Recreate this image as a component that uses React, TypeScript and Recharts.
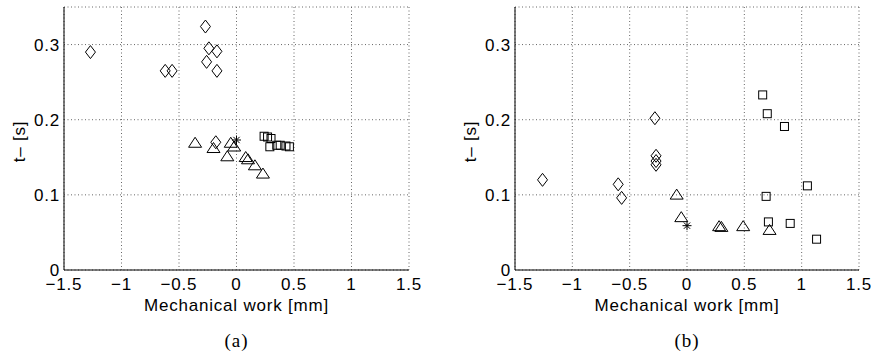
import { ScatterChart, Scatter, XAxis, YAxis, CartesianGrid } from 'recharts';

const xTicks = [-1.5, -1, -0.5, 0, 0.5, 1, 1.5];
const yTicks = [0, 0.1, 0.2, 0.3];

// panel (a)
const aDiamondX = [-1.27, -0.27, -0.62, -0.56, -0.24, -0.17, -0.26, -0.17, -0.18];
const aDiamondY = [0.29, 0.324, 0.265, 0.265, 0.295, 0.291, 0.277, 0.265, 0.17];
const aTriangleX = [-0.36, -0.2, -0.08, -0.05, -0.02, 0.08, 0.1, 0.16, 0.23];
const aTriangleY = [0.17, 0.163, 0.152, 0.17, 0.165, 0.151, 0.148, 0.14, 0.129];
const aSquareX = [0.24, 0.27, 0.3, 0.29, 0.35, 0.38, 0.43, 0.46];
const aSquareY = [0.178, 0.177, 0.175, 0.164, 0.166, 0.166, 0.165, 0.164];
const aStarX = [0];
const aStarY = [0.173];

// panel (b)
const bDiamondX = [-1.26, -0.6, -0.57, -0.28, -0.27, -0.27, -0.27];
const bDiamondY = [0.12, 0.114, 0.096, 0.202, 0.152, 0.145, 0.14];
const bTriangleX = [-0.09, -0.05, 0.28, 0.3, 0.49, 0.72];
const bTriangleY = [0.101, 0.071, 0.059, 0.058, 0.059, 0.054];
const bSquareX = [0.66, 0.7, 0.85, 1.05, 0.69, 0.71, 0.9, 1.13];
const bSquareY = [0.233, 0.208, 0.191, 0.112, 0.098, 0.064, 0.062, 0.041];
const bStarX = [0];
const bStarY = [0.059];

const FONT = '"Liberation Sans", Arial, Helvetica, sans-serif';
const FS = 17;
const LS = 0.8;

function zip(xs: number[], ys: number[]) {
  return xs.map((x, i) => ({ x, y: ys[i] }));
}

function fmt(v: number) {
  return String(v).replace('-', '\u2212');
}

const Diamond = (p: any) => {
  const { cx, cy } = p;
  return (
    <path
      d={`M${cx},${cy - 6.5}L${cx + 5},${cy}L${cx},${cy + 6.5}L${cx - 5},${cy}Z`}
      fill="none"
      stroke="#000"
      strokeWidth={1}
    />
  );
};

const Triangle = (p: any) => {
  const { cx, cy } = p;
  return (
    <path
      d={`M${cx},${cy - 5}L${cx + 6.5},${cy + 5}L${cx - 6.5},${cy + 5}Z`}
      fill="none"
      stroke="#000"
      strokeWidth={1}
    />
  );
};

const Square = (p: any) => {
  const { cx, cy } = p;
  return <rect x={cx - 4} y={cy - 4} width={8} height={8} fill="none" stroke="#000" strokeWidth={1} />;
};

const Star = (p: any) => {
  const { cx, cy } = p;
  const r = 4.5;
  const d = r * 0.7;
  return (
    <path
      d={`M${cx},${cy - r}L${cx},${cy + r}M${cx - r},${cy}L${cx + r},${cy}M${cx - d},${cy - d}L${cx + d},${cy + d}M${cx - d},${cy + d}L${cx + d},${cy - d}`}
      stroke="#000"
      strokeWidth={1}
    />
  );
};

interface PanelProps {
  left: number;
  yAxisWidth: number;
  plotWidth: number;
  caption: string;
  diamonds: { x: number; y: number }[];
  triangles: { x: number; y: number }[];
  squares: { x: number; y: number }[];
  stars: { x: number; y: number }[];
}

function Panel({ left, yAxisWidth, plotWidth, caption, diamonds, triangles, squares, stars }: PanelProps) {
  const rightMargin = 12;
  const width = yAxisWidth + plotWidth + rightMargin;
  const captionX = yAxisWidth + plotWidth / 2;
  return (
    <div style={{ position: 'absolute', left, top: 0, width, height: 358 }}>
      <ScatterChart
        width={width}
        height={320}
        margin={{ top: 7, right: rightMargin, left: 0, bottom: 0 }}
      >
        <CartesianGrid stroke="#666" strokeDasharray="1 2.5" />
        <XAxis
          type="number"
          dataKey="x"
          domain={[-1.5, 1.5]}
          ticks={xTicks}
          tickFormatter={fmt}
          height={50}
          tickLine={false}
          axisLine={{ stroke: '#000' }}
          tick={{ fontSize: FS, fill: '#000', fontFamily: FONT, letterSpacing: LS }}
          interval={0}
          label={{
            content: (props: any) => {
              const vb = props.viewBox;
              return (
                <text
                  x={vb.x + vb.width / 2}
                  y={vb.y + 41}
                  textAnchor="middle"
                  fontSize={FS}
                  letterSpacing={LS}
                  fontFamily={FONT}
                  fill="#000"
                >
                  Mechanical work [mm]
                </text>
              );
            },
          }}
        />
        <YAxis
          type="number"
          dataKey="y"
          domain={[0, 0.35]}
          ticks={yTicks}
          tickFormatter={fmt}
          width={yAxisWidth}
          tickLine={false}
          tickSize={3}
          tickMargin={1}
          axisLine={{ stroke: '#000' }}
          tick={{ fontSize: FS, fill: '#000', fontFamily: FONT, letterSpacing: LS }}
          interval={0}
          label={{
            content: (props: any) => {
              const vb = props.viewBox;
              const cx = vb.x + vb.width - 45;
              const cy = vb.y + vb.height / 2 + 3;
              return (
                <text
                  x={cx}
                  y={cy}
                  transform={`rotate(-90 ${cx} ${cy})`}
                  textAnchor="middle"
                  dominantBaseline="central"
                  fontSize={FS}
                  letterSpacing={LS}
                  fontFamily={FONT}
                  fill="#000"
                >
                  t– [s]
                </text>
              );
            },
          }}
        />
        <Scatter data={diamonds} shape={Diamond} isAnimationActive={false} />
        <Scatter data={triangles} shape={Triangle} isAnimationActive={false} />
        <Scatter data={squares} shape={Square} isAnimationActive={false} />
        <Scatter data={stars} shape={Star} isAnimationActive={false} />
      </ScatterChart>
      <div
        style={{
          position: 'absolute',
          left: captionX - 40,
          width: 80,
          top: 329,
          textAlign: 'center',
          fontFamily: '"Liberation Serif", "Times New Roman", serif',
          fontSize: 19,
          letterSpacing: 1,
          lineHeight: '24px',
        }}
      >
        {caption}
      </div>
    </div>
  );
}

export default function App() {
  return (
    <div style={{ position: 'absolute', left: 0, top: 0, width: 872, height: 358, background: '#fff' }}>
      <Panel
        left={0}
        yAxisWidth={64}
        plotWidth={345}
        caption="(a)"
        diamonds={zip(aDiamondX, aDiamondY)}
        triangles={zip(aTriangleX, aTriangleY)}
        squares={zip(aSquareX, aSquareY)}
        stars={zip(aStarX, aStarY)}
      />
      <Panel
        left={436}
        yAxisWidth={79}
        plotWidth={344}
        caption="(b)"
        diamonds={zip(bDiamondX, bDiamondY)}
        triangles={zip(bTriangleX, bTriangleY)}
        squares={zip(bSquareX, bSquareY)}
        stars={zip(bStarX, bStarY)}
      />
    </div>
  );
}
